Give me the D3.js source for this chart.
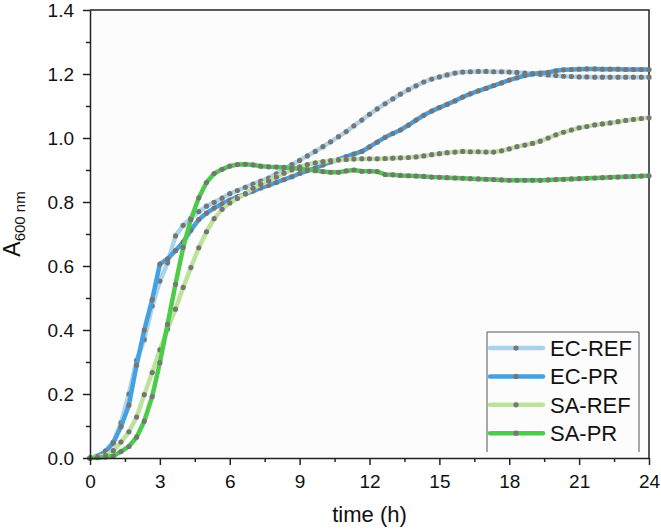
<!DOCTYPE html>
<html>
<head>
<meta charset="utf-8">
<script src="https://cdn.jsdelivr.net/npm/d3@7"></script>
<style>
  body { margin: 0; background: #fff; }
  svg { display: block; font-family: "Liberation Sans", Arial, sans-serif; }
</style>
</head>
<body>
<div class="growth-chart"></div>
<script>
// sampling times (h), one reading every 20 min
const times = [
  0, 0.33, 0.67, 1, 1.33, 1.67, 2, 2.33, 2.67,
  3, 3.33, 3.67, 4, 4.33, 4.67, 5, 5.33, 5.67,
  6, 6.33, 6.67, 7, 7.33, 7.67, 8, 8.33, 8.67,
  9, 9.33, 9.67, 10, 10.33, 10.67, 11, 11.33, 11.67,
  12, 12.33, 12.67, 13, 13.33, 13.67, 14, 14.33, 14.67,
  15, 15.33, 15.67, 16, 16.33, 16.67, 17, 17.33, 17.67,
  18, 18.33, 18.67, 19, 19.33, 19.67, 20, 20.33, 20.67,
  21, 21.33, 21.67, 22, 22.33, 22.67, 23, 23.33, 23.67,
  24
];

const seriesNames = ['EC-REF', 'EC-PR', 'SA-REF', 'SA-PR'];

const ecRef = [
  0.000, 0.005, 0.022, 0.050, 0.110, 0.200, 0.305, 0.370, 0.475,
  0.553, 0.610, 0.694, 0.727, 0.749, 0.770, 0.787, 0.799, 0.812,
  0.826, 0.836, 0.846, 0.856, 0.865, 0.875, 0.888, 0.903, 0.917,
  0.930, 0.944, 0.958, 0.973, 0.988, 1.004, 1.020, 1.038, 1.056,
  1.074, 1.091, 1.107, 1.122, 1.137, 1.151, 1.163, 1.175, 1.184,
  1.191, 1.197, 1.203, 1.206, 1.207, 1.208, 1.208, 1.207, 1.207,
  1.206, 1.205, 1.203, 1.201, 1.199, 1.197, 1.195, 1.193, 1.192,
  1.191, 1.191, 1.190, 1.190, 1.190, 1.190, 1.190, 1.190, 1.190,
  1.190
];

const ecPr = [
  0.000, 0.006, 0.020, 0.047, 0.098, 0.165, 0.290, 0.400, 0.495,
  0.606, 0.622, 0.648, 0.675, 0.712, 0.745, 0.765, 0.781, 0.794,
  0.806, 0.816, 0.825, 0.834, 0.844, 0.852, 0.861, 0.870, 0.879,
  0.889, 0.898, 0.906, 0.916, 0.925, 0.933, 0.942, 0.950, 0.958,
  0.972, 0.987, 1.002, 1.014, 1.025, 1.040, 1.056, 1.071, 1.084,
  1.095, 1.105, 1.116, 1.128, 1.138, 1.147, 1.155, 1.164, 1.172,
  1.181, 1.188, 1.195, 1.200, 1.203, 1.205, 1.210, 1.213, 1.214,
  1.215, 1.216, 1.216, 1.215, 1.215, 1.215, 1.214, 1.214, 1.214,
  1.214
];

const saRef = [
  0.000, 0.003, 0.008, 0.023, 0.050, 0.082, 0.128, 0.198, 0.267,
  0.338, 0.403, 0.465, 0.533, 0.595, 0.657, 0.707, 0.748, 0.777,
  0.797, 0.811, 0.826, 0.843, 0.855, 0.866, 0.878, 0.890, 0.900,
  0.910, 0.917, 0.922, 0.926, 0.929, 0.931, 0.933, 0.934, 0.935,
  0.935, 0.935, 0.936, 0.937, 0.938, 0.939, 0.941, 0.944, 0.948,
  0.951, 0.954, 0.956, 0.958, 0.957, 0.957, 0.956, 0.956, 0.960,
  0.966, 0.973, 0.978, 0.983, 0.990, 1.000, 1.010, 1.018, 1.025,
  1.032, 1.036, 1.041, 1.044, 1.047, 1.051, 1.055, 1.058, 1.061,
  1.063
];

const saPr = [
  0.000, 0.001, 0.003, 0.006, 0.020, 0.036, 0.065, 0.115, 0.192,
  0.298, 0.418, 0.543, 0.658, 0.745, 0.813, 0.861, 0.889, 0.902,
  0.912, 0.917, 0.918, 0.916, 0.912, 0.910, 0.909, 0.908, 0.906,
  0.904, 0.901, 0.898, 0.895, 0.893, 0.893, 0.897, 0.900, 0.896,
  0.896, 0.895, 0.886, 0.885, 0.883, 0.882, 0.881, 0.880, 0.878,
  0.877, 0.876, 0.875, 0.874, 0.873, 0.872, 0.871, 0.870, 0.869,
  0.868, 0.868, 0.868, 0.868, 0.868, 0.869, 0.870, 0.871, 0.872,
  0.873, 0.874, 0.875, 0.876, 0.877, 0.878, 0.879, 0.880, 0.881,
  0.882
];

const xTicks = [0, 3, 6, 9, 12, 15, 18, 21, 24];
const xMinorTicks = [1.5, 4.5, 7.5, 10.5, 13.5, 16.5, 19.5, 22.5];
const yTicks = [0, 0.2, 0.4, 0.6, 0.8, 1.0, 1.2, 1.4];
const yMinorTicks = [0.1, 0.3, 0.5, 0.7, 0.9, 1.1, 1.3];

const colors = ['#a9d3ec', '#45a0e2', '#bde29a', '#4dcb4a'];

const width = 661;
const height = 532;
const margin = { top: 10, right: 12, bottom: 74, left: 90 };

const svg = d3.select('.growth-chart')
  .append('svg')
  .attr('width', width)
  .attr('height', height);

const xScale = d3.scaleLinear()
  .domain([0, 24])
  .range([margin.left, width - margin.right]);

const yScale = d3.scaleLinear()
  .domain([0, 1.4])
  .range([height - margin.bottom, margin.top]);

// plot background
svg.append('rect')
  .attr('x', xScale(0))
  .attr('y', yScale(1.4))
  .attr('width', xScale(24) - xScale(0))
  .attr('height', yScale(0) - yScale(1.4))
  .attr('fill', '#fcfcfc');

// top and right frame
svg.append('path')
  .attr('d', `M${xScale(0)},${yScale(1.4)}H${xScale(24)}V${yScale(0)}`)
  .attr('fill', 'none')
  .attr('stroke', '#222')
  .attr('stroke-width', 1.5);

// lines and markers
const allSeries = [ecRef, ecPr, saRef, saPr];
const line = d3.line()
  .x((d, i) => xScale(times[i]))
  .y(d => yScale(d));

allSeries.forEach((values, k) => {
  svg.append('path')
    .datum(values)
    .attr('d', line)
    .attr('fill', 'none')
    .attr('stroke', colors[k])
    .attr('stroke-width', 4.5)
    .attr('stroke-linejoin', 'round');

  svg.append('g')
    .selectAll('circle')
    .data(values)
    .enter()
    .append('circle')
    .attr('cx', (d, i) => xScale(times[i]))
    .attr('cy', d => yScale(d))
    .attr('r', 2.6)
    .attr('fill', '#767676');
});

// axes
const xAxis = svg.append('g')
  .attr('transform', `translate(0, ${yScale(0)})`)
  .call(d3.axisBottom(xScale).tickValues(xTicks).tickFormat(d3.format('d'))
    .tickSize(7).tickSizeOuter(0).tickPadding(10));

svg.append('g')
  .attr('transform', `translate(0, ${yScale(0)})`)
  .call(d3.axisBottom(xScale).tickValues(xMinorTicks).tickFormat('')
    .tickSize(4).tickSizeOuter(0))
  .select('.domain').remove();

const yAxis = svg.append('g')
  .attr('transform', `translate(${xScale(0)}, 0)`)
  .call(d3.axisLeft(yScale).tickValues(yTicks).tickFormat(d3.format('.1f'))
    .tickSize(7).tickSizeOuter(0).tickPadding(9));

svg.append('g')
  .attr('transform', `translate(${xScale(0)}, 0)`)
  .call(d3.axisLeft(yScale).tickValues(yMinorTicks).tickFormat('')
    .tickSize(4).tickSizeOuter(0))
  .select('.domain').remove();

svg.selectAll('.domain, .tick line')
  .attr('stroke', '#222')
  .attr('stroke-width', 1.5);

xAxis.selectAll('text')
  .attr('font-size', 19)
  .attr('fill', '#111');
yAxis.selectAll('text')
  .attr('font-size', 19)
  .attr('fill', '#111');

// axis titles
svg.append('text')
  .attr('x', (xScale(0) + xScale(24)) / 2)
  .attr('y', 522)
  .attr('text-anchor', 'middle')
  .attr('font-size', 22)
  .attr('fill', '#111')
  .text('time (h)');

const yTitle = svg.append('text')
  .attr('transform', `translate(20, ${(yScale(0) + yScale(1.4)) / 2 - 10}) rotate(-90)`)
  .attr('text-anchor', 'middle')
  .attr('font-size', 23)
  .attr('fill', '#111');
yTitle.append('tspan').text('A');
yTitle.append('tspan')
  .attr('font-size', 15)
  .attr('dy', 5)
  .text('600 nm');

// legend
const legendX = 487;
const legendY = 332;
const legendW = 152;
const legend = svg.append('g');

legend.append('path')
  .attr('d', `M${legendX},${legendY + 120}V${legendY}H${legendX + legendW}V${legendY + 120}`)
  .attr('fill', 'none')
  .attr('stroke', '#555')
  .attr('stroke-width', 1);

seriesNames.forEach((name, k) => {
  const rowY = legendY + 16 + k * 28.4;
  legend.append('line')
    .attr('x1', legendX + 3)
    .attr('x2', legendX + 56)
    .attr('y1', rowY)
    .attr('y2', rowY)
    .attr('stroke', colors[k])
    .attr('stroke-width', 4.5)
    .attr('stroke-linecap', 'round');
  legend.append('circle')
    .attr('cx', legendX + 29)
    .attr('cy', rowY)
    .attr('r', 2.6)
    .attr('fill', '#767676');
  legend.append('text')
    .attr('x', legendX + 63)
    .attr('y', rowY + 8)
    .attr('font-size', 22)
    .attr('fill', '#111')
    .text(name);
});
</script>
</body>
</html>
